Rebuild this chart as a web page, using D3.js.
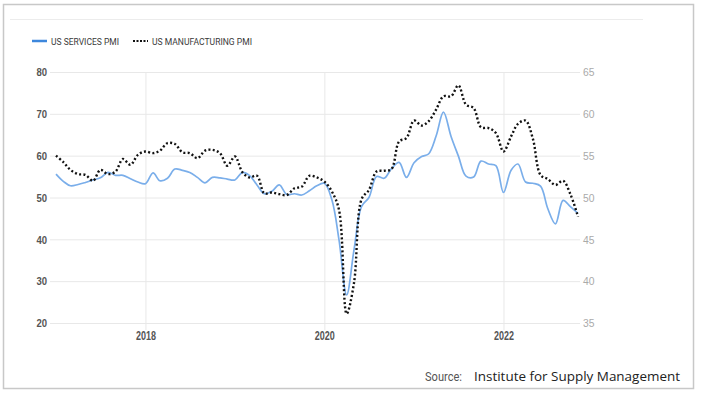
<!DOCTYPE html>
<html>
<head>
<meta charset="utf-8">
<script src="https://cdn.jsdelivr.net/npm/d3@7"></script>
<style>
  body { margin: 0; background: #fff; }
  svg { display: block; font-family: Roboto, "Liberation Sans", sans-serif; }
  .grid line { stroke: #e8e8e8; stroke-width: 1; }
  .grid path { display: none; }
  .axis path { display: none; }
  .axis line { display: none; }
  .left-axis text { fill: #555; font-size: 11.5px; font-weight: bold; }
  .right-axis text { fill: #aaa; font-size: 11.5px; }
  .x-axis text { fill: #555; font-size: 12px; font-weight: bold; }
  .services-line { fill: none; stroke: #7aaeea; stroke-width: 1.7; }
  .manufacturing-line { fill: none; stroke: #111; stroke-width: 2.4; stroke-dasharray: 2 2.3; }
</style>
</head>
<body>
<div id="chart"></div>
<script>
// monthly, Jan 2017 .. Nov 2022
const startMonth = new Date(2017, 0, 1);
const endMonth = new Date(2022, 11, 1);

const servicesPmi = [
  55.6, 53.8, 52.8, 53.1, 53.6, 54.2, 54.7, 56.0, 55.3, 55.3, 54.5, 53.7,
  53.3, 55.9, 54.0, 54.6, 56.8, 56.5, 56.0, 54.8, 53.5, 54.8, 54.7, 54.4,
  54.2, 56.0, 55.3, 53.0, 50.9, 51.5, 53.0, 50.7, 50.9, 50.6, 51.6, 52.8,
  53.4, 49.4, 39.8, 26.7, 37.5, 47.9, 50.0, 55.0, 54.6, 56.9, 58.4, 54.8,
  58.3, 59.8, 60.4, 64.7, 70.4, 64.6, 59.9, 55.1, 54.9, 58.7, 58.0, 57.6,
  51.2, 56.5, 58.0, 53.7, 53.4, 52.7, 47.3, 43.7, 49.3, 47.8, 46.2
];

const manufacturingPmi = [
  55.0, 54.2, 53.3, 52.8, 52.7, 52.0, 53.3, 52.8, 53.1, 54.6, 53.9, 55.1,
  55.5, 55.3, 55.6, 56.5, 56.4, 55.4, 55.3, 54.7, 55.6, 55.7, 55.3, 53.8,
  54.9, 53.0, 52.4, 52.6, 50.5, 50.6, 50.4, 50.3, 51.1, 51.3, 52.6, 52.4,
  51.9, 50.7, 48.5, 36.1, 39.8, 49.8, 50.9, 53.1, 53.2, 53.4, 56.7, 57.1,
  59.2, 58.6, 59.1, 60.5, 62.1, 62.1, 63.4, 61.1, 60.7, 58.4, 58.3, 57.7,
  55.5, 57.3, 58.8, 59.2, 57.0, 52.7, 52.2, 51.5, 52.0, 50.4, 47.7
];

const leftTicks = [20, 30, 40, 50, 60, 70, 80];
const rightTicks = [35, 40, 45, 50, 55, 60, 65];
const yearTicks = [2018, 2020, 2022];
const legendLabels = ["US SERVICES PMI", "US MANUFACTURING PMI"];
const sourceLabel = "Source:";
const sourceName = "Institute for Supply Management";

const W = 701, H = 394;
const plot = { left: 50, right: 580, top: 72, bottom: 323 };

const months = d3.timeMonth.range(startMonth, endMonth);

const svg = d3.select("#chart").append("svg")
  .attr("width", W)
  .attr("height", H);

// frame + top rule
svg.append("rect")
  .attr("x", 3.5).attr("y", 4.5)
  .attr("width", 690).attr("height", 384)
  .attr("fill", "none").attr("stroke", "#c8c8c8").attr("stroke-width", 1.5);

svg.append("line")
  .attr("x1", 10).attr("x2", 643)
  .attr("y1", 19.5).attr("y2", 19.5)
  .attr("stroke", "#ececec");

//scales
const x = d3.scaleTime()
  .domain([startMonth, months[months.length - 1]])
  .range([plot.left + 6, plot.right - 2]);

const yLeft = d3.scaleLinear()
  .domain([20, 80])
  .range([plot.bottom, plot.top]);

const yRight = d3.scaleLinear()
  .domain([35, 65])
  .range([plot.bottom, plot.top]);

//grid
svg.append("g")
  .attr("class", "grid")
  .attr("transform", `translate(${plot.left},0)`)
  .call(d3.axisLeft(yLeft).tickValues(leftTicks)
    .tickSize(-(plot.right - plot.left)).tickFormat(""));

svg.append("g")
  .attr("class", "grid")
  .attr("transform", `translate(0,${plot.bottom + 7})`)
  .call(d3.axisBottom(x).tickValues(yearTicks.map(yr => new Date(yr, 0, 1)))
    .tickSize(-(plot.bottom + 7 - plot.top)).tickFormat(""))
  .selectAll("line").attr("stroke", "#eeeeee");

//axes
svg.append("g")
  .attr("class", "axis left-axis")
  .attr("transform", `translate(${plot.left},0)`)
  .call(d3.axisLeft(yLeft).tickValues(leftTicks).tickSize(0).tickPadding(3))
  .selectAll("text")
  .attr("textLength", 10.6)
  .attr("lengthAdjust", "spacingAndGlyphs");

svg.append("g")
  .attr("class", "axis right-axis")
  .attr("transform", `translate(${plot.right},0)`)
  .call(d3.axisRight(yRight).tickValues(rightTicks).tickSize(0).tickPadding(3))
  .selectAll("text")
  .attr("textLength", 11.5)
  .attr("lengthAdjust", "spacingAndGlyphs");

svg.append("g")
  .attr("class", "axis x-axis")
  .attr("transform", `translate(0,${plot.bottom})`)
  .call(d3.axisBottom(x).tickValues(yearTicks.map(yr => new Date(yr, 0, 1)))
    .tickFormat(d3.timeFormat("%Y")).tickSize(0).tickPadding(8))
  .selectAll("text")
  .attr("textLength", 20)
  .attr("lengthAdjust", "spacingAndGlyphs");

//lines
const servicesLine = d3.line()
  .x((d, i) => x(months[i]))
  .y(d => yLeft(d))
  .curve(d3.curveCatmullRom.alpha(0.5));

const manufacturingLine = d3.line()
  .x((d, i) => x(months[i]))
  .y(d => yRight(d))
  .curve(d3.curveCatmullRom.alpha(0.5));

svg.append("path")
  .datum(servicesPmi)
  .attr("class", "services-line")
  .attr("d", servicesLine);

svg.append("path")
  .datum(manufacturingPmi)
  .attr("class", "manufacturing-line")
  .attr("d", manufacturingLine);

//legend
const legend = svg.append("g").attr("transform", "translate(32,41)");
legend.append("line")
  .attr("x1", 0).attr("x2", 15)
  .attr("stroke", "#3d87dc").attr("stroke-width", 2.5);
legend.append("text")
  .attr("x", 19).attr("y", 3.5)
  .attr("font-size", 9.5).attr("fill", "#3a3a3a")
  .attr("textLength", 68).attr("lengthAdjust", "spacingAndGlyphs")
  .text(legendLabels[0]);
legend.append("line")
  .attr("x1", 101).attr("x2", 116)
  .attr("stroke", "#111").attr("stroke-width", 2)
  .attr("stroke-dasharray", "2 1.5");
legend.append("text")
  .attr("x", 120).attr("y", 3.5)
  .attr("font-size", 9.5).attr("fill", "#3a3a3a")
  .attr("textLength", 100).attr("lengthAdjust", "spacingAndGlyphs")
  .text(legendLabels[1]);

//source
svg.append("text")
  .attr("x", 425).attr("y", 381)
  .attr("font-size", 13).attr("fill", "#555")
  .attr("textLength", 37).attr("lengthAdjust", "spacingAndGlyphs")
  .text(sourceLabel);
svg.append("text")
  .attr("x", 474).attr("y", 381)
  .attr("font-size", 13.5).attr("fill", "#222")
  .attr("font-family", "'Open Sans', sans-serif")
  .attr("textLength", 206).attr("lengthAdjust", "spacingAndGlyphs")
  .text(sourceName);
</script>
</body>
</html>
